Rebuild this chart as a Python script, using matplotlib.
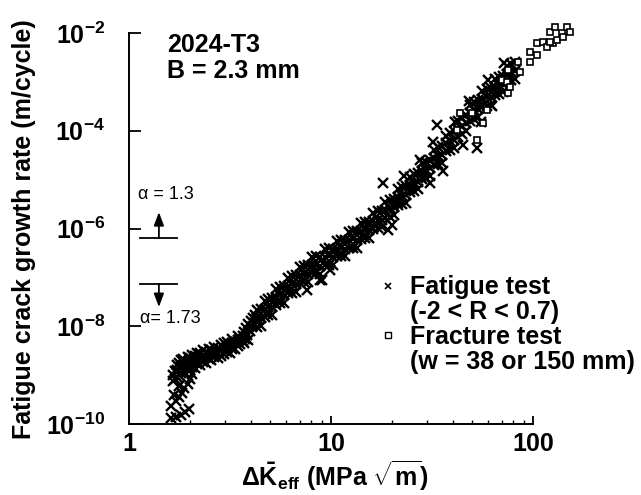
import matplotlib
matplotlib.use("Agg")
import matplotlib.pyplot as plt
from matplotlib.ticker import NullLocator, LogLocator, FixedLocator

plt.rcParams.update({
    'font.family': ['Liberation Sans', 'DejaVu Sans'],
    'font.weight': 'bold',
    'mathtext.fontset': 'custom',
    'mathtext.rm': 'Liberation Sans:bold',
    'mathtext.bf': 'Liberation Sans:bold',
    'mathtext.it': 'Liberation Sans:bold:italic',
    'mathtext.sf': 'Liberation Sans:bold',
})

# ---------------- data ----------------
# Fatigue tests: near-threshold tail
tail_dK = [1.62, 1.70, 1.80, 1.90, 1.99, 1.61, 1.70, 1.76, 1.67, 1.82, 1.88, 1.95, 1.76, 2.00, 2.05]
tail_rate = [1.3e-10, 1.4e-10, 1.55e-10, 1.75e-10, 2.0e-10, 2.3e-10, 2.9e-10, 3.5e-10, 4.0e-10,
             4.4e-10, 5.5e-10, 6.5e-10, 6.0e-10, 8.5e-10, 1.05e-9]

# Fatigue tests: lower band
low_dK = [1.65, 1.65, 1.68, 1.68, 1.72, 1.72, 1.72, 1.76, 1.76, 1.76, 1.80, 1.80, 1.80,
          1.85, 1.85, 1.85, 1.90, 1.90, 1.90, 1.95, 1.95, 1.95, 2.00, 2.00, 2.00,
          2.06, 2.06, 2.06, 2.12, 2.12, 2.12, 2.18, 2.18, 2.18, 2.25, 2.25, 2.25,
          2.32, 2.32, 2.32, 2.40, 2.40, 2.40, 2.48, 2.48, 2.48, 2.56, 2.56, 2.56,
          2.65, 2.65, 2.65, 2.75, 2.75, 2.75, 2.85, 2.85, 2.85, 2.95, 2.95, 2.95,
          3.05, 3.05, 3.05, 3.15, 3.15, 3.25, 3.25, 3.25, 3.35, 3.35, 3.45, 3.45, 3.45,
          3.55, 3.55, 3.65, 3.65]
low_rate = [7.5e-10, 1.0e-9, 8.5e-10, 1.2e-9, 9.0e-10, 1.3e-9, 1.6e-9, 1.0e-9, 1.45e-9, 1.8e-9,
            1.1e-9, 1.5e-9, 2.0e-9, 1.2e-9, 1.6e-9, 2.1e-9, 1.1e-9, 1.4e-9, 1.9e-9,
            1.3e-9, 1.8e-9, 2.3e-9, 1.25e-9, 1.6e-9, 2.2e-9, 1.5e-9, 2.0e-9, 2.6e-9,
            1.4e-9, 1.9e-9, 2.5e-9, 1.7e-9, 2.2e-9, 2.9e-9, 1.6e-9, 2.1e-9, 2.8e-9,
            1.9e-9, 2.5e-9, 3.2e-9, 1.8e-9, 2.4e-9, 3.0e-9, 2.1e-9, 2.7e-9, 3.4e-9,
            2.0e-9, 2.6e-9, 3.3e-9, 2.3e-9, 3.0e-9, 3.7e-9, 2.2e-9, 2.9e-9, 3.6e-9,
            2.5e-9, 3.3e-9, 4.1e-9, 2.7e-9, 3.6e-9, 4.5e-9, 3.0e-9, 3.9e-9, 4.8e-9,
            2.9e-9, 4.0e-9, 3.5e-9, 4.5e-9, 5.4e-9, 3.4e-9, 4.8e-9, 4.0e-9, 5.2e-9, 6.2e-9,
            4.4e-9, 5.6e-9, 5.0e-9, 6.4e-9]

# Fatigue tests: transition near dK ~ 4
trans_dK = [3.70, 3.75, 3.80, 3.85, 3.90, 3.95, 4.00, 4.05, 4.10, 4.15, 4.20, 4.30, 3.70, 3.90]
trans_rate = [7.5e-9, 5.5e-9, 9.0e-9, 6.5e-9, 1.1e-8, 8.0e-9, 1.3e-8, 9.5e-9, 1.5e-8, 1.15e-8,
              1.7e-8, 1.4e-8, 4.6e-9, 5.2e-9]

# Fatigue tests: upper band
up_dK = [4.3, 4.3, 4.3, 4.5, 4.5, 4.5, 4.7, 4.7, 4.7, 4.9, 4.9, 4.9, 5.1, 5.1, 5.1,
         5.35, 5.35, 5.35, 5.6, 5.6, 5.6, 5.85, 5.85, 5.85, 6.1, 6.1, 6.1, 6.4, 6.4, 6.4,
         6.7, 6.7, 6.7, 7.0, 7.0, 7.0, 7.35, 7.35, 7.35, 7.7, 7.7, 7.7, 8.05, 8.05, 8.05,
         8.45, 8.45, 8.45, 8.85, 8.85, 8.85, 9.3, 9.3, 9.3, 9.75, 9.75, 9.75,
         10.2, 10.2, 10.2, 10.7, 10.7, 10.7, 11.2, 11.2, 11.2, 11.7, 11.7, 11.7,
         12.3, 12.3, 12.3, 12.9, 12.9, 12.9, 13.5, 13.5, 13.5, 14.1, 14.1, 14.1,
         14.8, 14.8, 14.8, 15.5, 15.5, 15.5, 16.2, 16.2, 16.2, 17.0, 17.0, 17.0,
         17.8, 17.8, 17.8, 18.6, 18.6, 18.6, 19.5, 19.5, 19.5, 20.4, 20.4, 20.4,
         21.4, 21.4, 21.4, 22.4, 22.4, 22.4, 23.4, 23.4, 23.4, 24.5, 24.5, 24.5,
         25.7, 25.7, 25.7, 26.9, 26.9, 26.9, 28.2, 28.2, 28.2, 29.5, 29.5, 29.5,
         30.9, 30.9, 30.9, 32.4, 32.4, 32.4, 33.9, 33.9, 33.9, 35.5, 35.5, 35.5,
         37.2, 37.2, 37.2, 39.0, 39.0, 39.0, 40.8, 40.8, 40.8, 42.7, 42.7, 42.7,
         44.7, 44.7, 44.7, 46.8, 46.8, 46.8, 49.0, 49.0, 49.0, 51.3, 51.3, 51.3,
         53.7, 53.7, 53.7, 56.2, 56.2, 56.2, 58.9, 58.9, 58.9, 61.7, 61.7, 61.7,
         64.6, 64.6, 64.6, 67.6, 67.6, 67.6, 70.8, 70.8, 70.8, 74.1, 74.1, 74.1,
         77.6, 77.6, 77.6, 81.3, 81.3, 81.3]
up_rate = [2.14e-8, 1.45e-8, 9.8e-9, 2.24e-8, 1.48e-8, 1.02e-8, 3.31e-8, 2.29e-8, 1.58e-8,
           3.63e-8, 2.45e-8, 1.66e-8, 3.72e-8, 2.45e-8, 1.70e-8,
           5.75e-8, 3.98e-8, 2.75e-8, 6.46e-8, 4.37e-8, 2.95e-8, 6.61e-8, 4.37e-8, 3.02e-8,
           9.77e-8, 6.76e-8, 4.68e-8, 1.07e-7, 7.24e-8, 4.90e-8,
           1.10e-7, 7.24e-8, 5.01e-8, 1.62e-7, 1.12e-7, 7.76e-8, 1.74e-7, 1.17e-7, 7.94e-8,
           1.78e-7, 1.17e-7, 8.13e-8, 2.57e-7, 1.78e-7, 1.23e-7,
           2.69e-7, 1.82e-7, 1.23e-7, 2.63e-7, 1.74e-7, 1.20e-7, 3.80e-7, 2.63e-7, 1.82e-7,
           3.98e-7, 2.69e-7, 1.82e-7,
           3.89e-7, 2.57e-7, 1.78e-7, 5.62e-7, 3.89e-7, 2.69e-7, 5.89e-7, 3.98e-7, 2.69e-7,
           5.89e-7, 3.89e-7, 2.69e-7,
           8.51e-7, 5.89e-7, 4.07e-7, 8.91e-7, 6.03e-7, 4.07e-7, 8.91e-7, 5.89e-7, 4.07e-7,
           1.29e-6, 8.91e-7, 6.17e-7,
           1.38e-6, 9.33e-7, 6.31e-7, 1.38e-6, 9.12e-7, 6.31e-7, 2.04e-6, 1.41e-6, 9.77e-7,
           2.24e-6, 1.51e-6, 1.02e-6,
           2.29e-6, 1.51e-6, 1.05e-6, 3.47e-6, 2.40e-6, 1.66e-6, 3.80e-6, 2.57e-6, 1.74e-6,
           4.07e-6, 2.69e-6, 1.86e-6,
           6.31e-6, 4.37e-6, 3.02e-6, 6.92e-6, 4.68e-6, 3.16e-6, 7.41e-6, 4.90e-6, 3.39e-6,
           1.15e-5, 7.94e-6, 5.50e-6,
           1.29e-5, 8.71e-6, 5.89e-6, 1.38e-5, 9.12e-6, 6.31e-6, 2.14e-5, 1.48e-5, 1.02e-5,
           2.34e-5, 1.58e-5, 1.07e-5,
           2.57e-5, 1.70e-5, 1.17e-5, 4.07e-5, 2.82e-5, 1.95e-5, 4.57e-5, 3.09e-5, 2.09e-5,
           4.90e-5, 3.24e-5, 2.24e-5,
           7.94e-5, 5.50e-5, 3.80e-5, 8.91e-5, 6.03e-5, 4.07e-5, 9.77e-5, 6.46e-5, 4.47e-5,
           1.58e-4, 1.10e-4, 7.59e-5,
           1.86e-4, 1.26e-4, 8.51e-5, 2.14e-4, 1.41e-4, 9.77e-5, 3.39e-4, 2.34e-4, 1.62e-4,
           3.89e-4, 2.63e-4, 1.78e-4,
           4.17e-4, 2.75e-4, 1.91e-4, 6.46e-4, 4.47e-4, 3.09e-4, 7.08e-4, 4.79e-4, 3.24e-4,
           7.41e-4, 4.90e-4, 3.39e-4,
           1.15e-3, 7.94e-4, 5.50e-4, 1.26e-3, 8.51e-4, 5.75e-4, 1.35e-3, 8.91e-4, 6.17e-4,
           2.09e-3, 1.45e-3, 1.00e-3,
           2.34e-3, 1.58e-3, 1.07e-3, 2.51e-3, 1.66e-3, 1.15e-3]

# Fatigue tests: scattered points off the main band
spread_dK = [7.6, 8.83, 9.89, 9.0, 18.1, 19.1, 20.0, 23.0, 27.5, 31.0, 32.0, 33.5, 36.0,
             41.0, 45.0, 48.0, 52.8, 55.0, 60.0, 63.0, 72.0]
spread_rate = [5.5e-8, 8.9e-8, 1.4e-7, 8.9e-8, 8.5e-6, 9.3e-7, 1.2e-6, 1.2e-5, 2.5e-5,
               8.5e-6, 6.0e-5, 1.3e-4, 1.5e-5, 1.5e-4, 5.0e-5, 4.0e-4, 4.5e-5, 1.5e-4,
               1.1e-3, 3.2e-4, 2.4e-3]

# Fracture tests
frac_dK = [42.1, 43.5, 49.9, 52.8, 56.5, 59.2, 70.3, 74.4, 75.2, 77.0, 75.2, 84.3, 86.3,
           96.7, 96.7, 104.7, 104.7, 112, 117, 126, 121, 131, 128.5, 139, 147, 152, 141, 121]
frac_rate = [1.04e-4, 2.3e-4, 2.3e-4, 6.5e-5, 1.45e-4, 2.7e-4, 1.09e-3, 1.0e-3, 5.9e-4,
             7.9e-4, 1.74e-3, 2.6e-3, 1.6e-3, 2.6e-3, 4.1e-3, 3.55e-3, 6.2e-3, 6.5e-3,
             5.2e-3, 6.2e-3, 1.05e-2, 7.2e-3, 1.33e-2, 1.0e-2, 1.33e-2, 1.05e-2, 8.3e-3, 6.6e-3]

y_ticks = [1e-10, 1e-8, 1e-6, 1e-4, 1e-2]
y_ticklabels = [r'$10^{-10}$', r'$10^{-8}$', r'$10^{-6}$', r'$10^{-4}$', r'$10^{-2}$']
x_ticks = [1, 10, 100]
x_ticklabels = ['1', '10', '100']

# ---------------- figure ----------------
W, H = 641, 495
fig = plt.figure(figsize=(W / 100, H / 100), dpi=100)
ax = fig.add_axes([129 / W, (H - 424) / H, 404 / W, 391 / H])

ax.set_xscale('log')
ax.set_yscale('log')
ax.set_xlim(1, 100)
ax.set_ylim(1e-10, 1e-2)

fat_kw = dict(linestyle='none', marker='x', ms=6.5, mew=1.7, color='black', clip_on=False, zorder=3)
for xs, ys in [(tail_dK, tail_rate), (low_dK, low_rate), (trans_dK, trans_rate),
               (up_dK, up_rate), (spread_dK, spread_rate)]:
    ax.plot(xs, ys, **fat_kw)
ax.plot(frac_dK, frac_rate, linestyle='none', marker='s', ms=5.0, mew=1.2,
        mec='black', mfc='white', clip_on=False, zorder=4)

for s in ['top', 'right']:
    ax.spines[s].set_visible(False)
for s in ['left', 'bottom']:
    ax.spines[s].set_linewidth(1.4)

ax.yaxis.set_major_locator(FixedLocator(y_ticks))
ax.yaxis.set_minor_locator(NullLocator())
ax.set_yticklabels(y_ticklabels)
ax.xaxis.set_major_locator(FixedLocator(x_ticks))
ax.xaxis.set_minor_locator(LogLocator(base=10, subs=[2, 3, 4, 5, 6, 7, 8, 9]))
ax.set_xticklabels(x_ticklabels)

ax.tick_params(axis='y', which='major', direction='in', length=8.6, width=1.3, pad=17, labelsize=18)
ax.tick_params(axis='x', which='major', direction='in', length=6, width=1.3, pad=6, labelsize=18)
ax.tick_params(axis='x', which='minor', direction='in', length=3, width=1.0)

# axis titles
fig.text(24 / W, 1 - 229 / H, 'Fatigue crack growth rate (m/cycle)', rotation=90,
         ha='center', va='center', fontsize=18, fontweight='bold')
fig.text(335 / W, 1 - 476 / H, r'$\Delta\bar{\mathrm{K}}_{\mathrm{eff}}$ (MPa $\sqrt{\mathrm{m}}$)',
         ha='center', va='center', fontsize=18, fontweight='bold')

# material info
ax.text(0.094, 0.969, '2024-T3', transform=ax.transAxes, ha='left', va='center',
        fontsize=18, fontweight='bold')
ax.text(0.094, 0.903, 'B = 2.3 mm', transform=ax.transAxes, ha='left', va='center',
        fontsize=18, fontweight='bold')

# legend
ax.plot([0.641], [0.353], transform=ax.transAxes, linestyle='none', marker='x', ms=4.5,
        mew=1.2, color='black', clip_on=False)
ax.plot([0.641], [0.228], transform=ax.transAxes, linestyle='none', marker='s', ms=4.5,
        mew=1.0, mec='black', mfc='white', clip_on=False)
leg_lines = ['Fatigue test', '(-2 < R < 0.7)', 'Fracture test', '(w = 38 or 150 mm)']
leg_y = [0.350, 0.286, 0.223, 0.159]
for t, yy in zip(leg_lines, leg_y):
    ax.text(0.696, yy, t, transform=ax.transAxes, ha='left', va='center',
            fontsize=18, fontweight='bold')

# alpha markers
arrow_style = dict(arrowstyle='-|>,head_length=0.8,head_width=0.3', color='black', lw=1.3,
                   shrinkA=0, shrinkB=0)
ax.text(0.022, 0.586, 'α = 1.3', transform=ax.transAxes, ha='left', va='center',
        fontsize=13, fontweight='normal')
ax.plot([0.027, 0.119], [0.476, 0.476], transform=ax.transAxes, color='black', lw=1.3, clip_on=False)
ax.annotate('', xy=(0.074, 0.542), xytext=(0.074, 0.476), xycoords='axes fraction',
            arrowprops=arrow_style)
ax.plot([0.027, 0.119], [0.358, 0.358], transform=ax.transAxes, color='black', lw=1.3, clip_on=False)
ax.annotate('', xy=(0.074, 0.299), xytext=(0.074, 0.358), xycoords='axes fraction',
            arrowprops=arrow_style)
ax.text(0.027, 0.271, 'α= 1.73', transform=ax.transAxes, ha='left', va='center',
        fontsize=13, fontweight='normal')

fig.savefig('out.png', dpi=100)
